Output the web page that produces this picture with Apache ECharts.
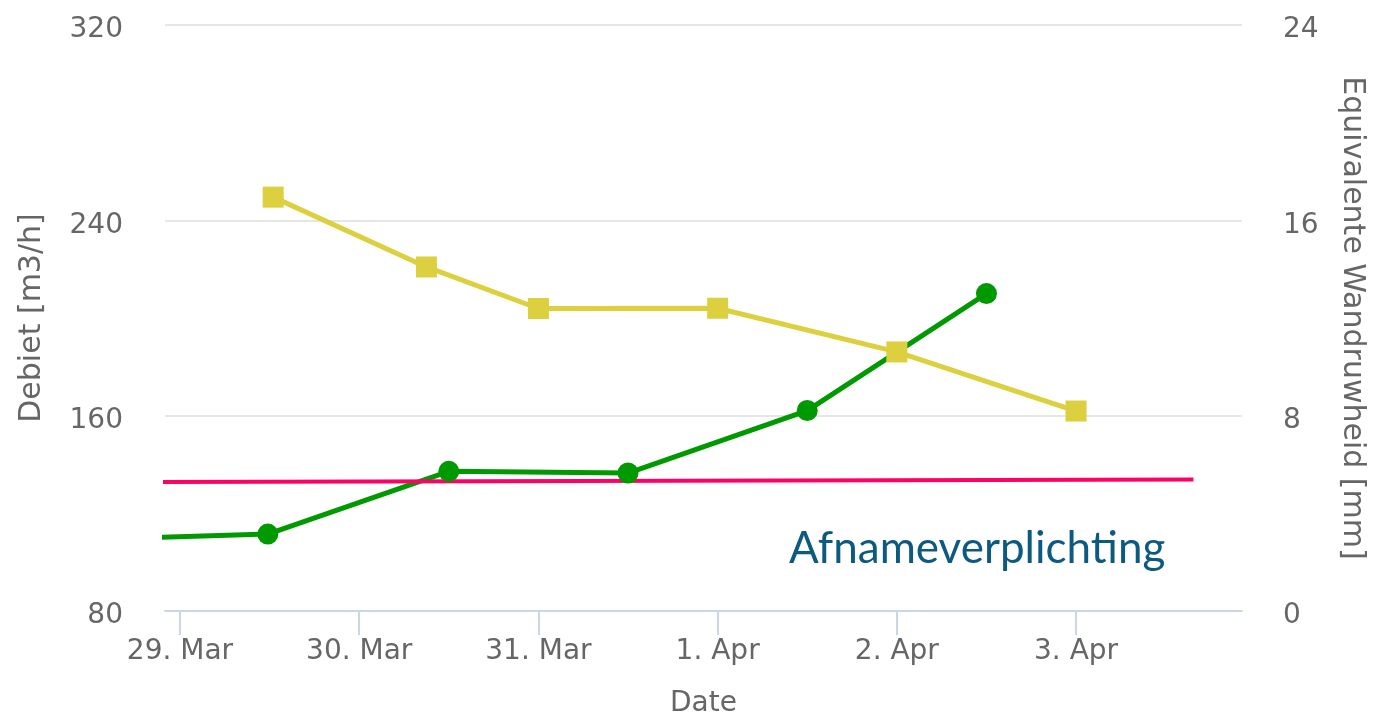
<!DOCTYPE html>
<html>
<head>
<meta charset="utf-8">
<script src="https://cdn.jsdelivr.net/npm/echarts@6/dist/echarts.min.js"></script>
<style>
  html, body { margin: 0; padding: 0; background: #fff; }
  #chart { width: 1376px; height: 717px; }
</style>
</head>
<body>
<div id="chart"></div>
<script>
// x values are days counted from 29 Mar 00:00
const dayTicks = [0, 1, 2, 3, 4, 5];
const dayLabels = ["29. Mar", "30. Mar", "31. Mar", "1. Apr", "2. Apr", "3. Apr"];

// Debiet [m3/h] (left axis)
const debietX = [0.52, 1.375, 2.0, 3.0, 4.0, 5.0];
const debiet = [249.5, 220.9, 203.9, 204.0, 186.1, 161.9];

// Equivalente wandruwheid [mm] (right axis), first point lies left of the plot
const ruwheidX = [-0.5, 0.49, 1.5, 2.5, 3.5, 4.5];
const ruwheid = [2.93, 3.15, 5.72, 5.65, 8.21, 13.0];

// afnameverplichting line, drawn past the left edge of the plot
const afnameX = [-0.335, 5.655];
const afname = [132.8, 133.9];

const zip = (xs, ys) => xs.map((x, i) => [x, ys[i]]);

const axisText = { color: "#666666", fontFamily: "DejaVu Sans", fontSize: 28 };
const nameText = { ...axisText, fontSize: 30 };

// y labels sit a little below their grid line, as in the original
const yLabel = (margin) => ({
  margin,
  formatter: "{v|{value}}",
  rich: { v: { ...axisText, padding: [10, 0, 0, 0] } },
});

const myChart = echarts.init(document.getElementById("chart"), null, { renderer: "canvas" });

let option = {
  animation: false,
  grid: { left: 165, right: 134, top: 25, bottom: 106, outerBoundsMode: "none" },
  xAxis: {
    type: "value",
    min: -0.0837,
    max: 5.926,
    name: "Date",
    nameLocation: "middle",
    nameGap: 79,
    nameTextStyle: axisText,
    axisLine: { show: true, lineStyle: { color: "#ccd6eb", width: 2 } },
    axisTick: { show: true, length: 24, customValues: dayTicks, lineStyle: { color: "#ccd6eb", width: 2 } },
    axisLabel: {
      ...axisText,
      margin: 27,
      customValues: dayTicks,
      formatter: (v) => dayLabels[Math.round(v)],
    },
    splitLine: { show: false },
  },
  yAxis: [
    {
      type: "value",
      min: 80,
      max: 320,
      interval: 80,
      name: "Debiet [m3/h]",
      nameLocation: "middle",
      nameGap: 118,
      nameTextStyle: nameText,
      axisLine: { show: false },
      axisTick: { show: false },
      axisLabel: yLabel(42),
      splitLine: { lineStyle: { color: "#e6e6e6", width: 2 } },
    },
    {
      type: "value",
      min: 0,
      max: 24,
      interval: 8,
      name: "Equivalente Wandruwheid [mm]",
      nameLocation: "middle",
      nameRotate: -90,
      nameGap: 95,
      nameTextStyle: nameText,
      axisLine: { show: false },
      axisTick: { show: false },
      axisLabel: yLabel(41),
      splitLine: { show: false },
    },
  ],
  series: [
    {
      name: "Debiet",
      type: "line",
      yAxisIndex: 0,
      data: zip(debietX, debiet),
      symbol: "rect",
      symbolSize: 21,
      showAllSymbol: true,
      itemStyle: { color: "#ddd03f" },
      lineStyle: { color: "#ddd03f", width: 5 },
    },
    {
      name: "Wandruwheid",
      type: "line",
      yAxisIndex: 1,
      data: zip(ruwheidX, ruwheid),
      symbol: "circle",
      symbolSize: 21,
      showAllSymbol: true,
      itemStyle: { color: "#009900" },
      lineStyle: { color: "#009900", width: 5 },
    },
    {
      name: "Afnameverplichting",
      type: "line",
      yAxisIndex: 0,
      data: zip(afnameX, afname),
      symbol: "none",
      clip: false,
      lineStyle: { color: "#ff0066", width: 4 },
    },
  ],
  graphic: [
    {
      type: "text",
      left: 789,
      top: 527,
      style: {
        text: "Afnameverplichting",
        fill: "#0d5a80",
        font: "44px Lato",
      },
    },
  ],
};

option && myChart.setOption(option);
</script>
</body>
</html>
